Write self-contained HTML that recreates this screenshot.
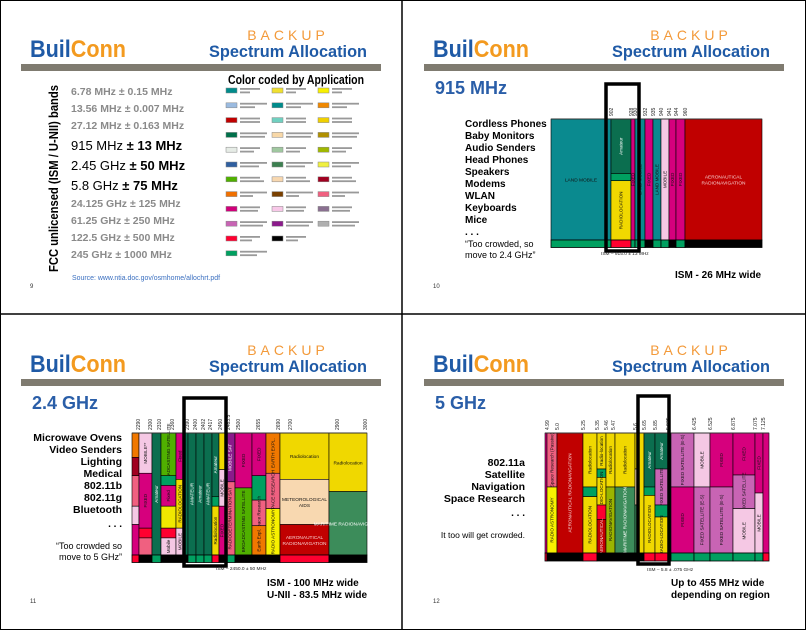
<!DOCTYPE html>
<html><head><meta charset="utf-8">
<style>
html,body{margin:0;padding:0;background:#fff;}
svg{display:block;font-family:"Liberation Sans",Arial,sans-serif;}
</style></head>
<body>
<svg id="page" width="806" height="630" viewBox="0 0 806 630" xmlns="http://www.w3.org/2000/svg">
<rect x="0.5" y="0.5" width="805" height="629" fill="#fff" stroke="#000" stroke-width="1"/>
<line x1="402" y1="0" x2="402" y2="630" stroke="#000" stroke-width="1.5"/>
<line x1="0" y1="314" x2="806" y2="314" stroke="#000" stroke-width="1.5"/>
<g id="root"></g>
</svg>
<script>
// ---------- chart data (schematic band units) ----------
var c915TickLabels = ["902","928","930","932","935","940","941","944","960"];
var c915TickUnits  = [60,80,84,94,102,110,118,125,134];
var c915Cols = [
 [0,60,[["#0a8a8f",0,1,"LAND MOBILE"]]],
 [60,80,[["#0b6e4f",0,0.45,"Amateur"],["#00a060",0.45,0.51,""],["#f0d800",0.51,1,"RADIOLOCATION"]]],
 [80,84,[["#d6007d",0,1,"FIXED"]]],
 [84,94,[["#0a8a8f",0,1,"LAND MOBILE"]]],
 [94,102,[["#d6007d",0,1,"FIXED"]]],
 [102,110,[["#0a8a8f",0,1,"LAND MOBILE"]]],
 [110,118,[["#f5c8e4",0,1,"MOBILE"]]],
 [118,125,[["#d6007d",0,1,"FIXED"]]],
 [125,134,[["#d6007d",0,1,"FIXED"]]],
 [134,211,[["#c00000",0,1,"AERONAUTICAL|RADIONAVIGATION"]]]
];
var c915Strip = [[0,60,"#00a060"],[60,80,"#ff0030"],[80,84,"#00a060"],[84,94,"#00a060"],[94,102,"#000"],[102,110,"#00a060"],[110,118,"#00a060"],[118,125,"#000"],[125,134,"#00a060"],[134,211,"#000"]];

var c24TickLabels = ["2290","2300","2310","2360","2390","2400","2402","2417","2450","2483.5","2500","2655","2690","2700","2900","3000"];
var c24TickUnits  = [6,18,27,40,55,63,71,78,88,96,106,126,146,158,205,233];
var c24Cols = [
 [0,7,[["#f07800",0,0.2,""],["#a00020",0.2,0.35,""],["#f06080",0.35,0.6,""],["#f5c8e4",0.6,0.75,""],["#d6007d",0.75,1,""]]],
 [7,20,[["#f5c8e4",0,0.33,"MOBILE**"],["#d6007d",0.33,0.78,"FIXED"],["#ff0030",0.78,0.86,""],["#f06080",0.86,1,""]]],
 [20,29,[["#0b6e4f",0,1,"Amateur"]]],
 [29,44,[["#50b000",0,0.35,"BROADCASTING SATELLITE"],["#00a060",0.35,0.43,""],["#d6007d",0.43,0.6,"Fixed"],["#f0e800",0.6,0.78,""],["#ff0030",0.78,0.86,""],["#f5c8e4",0.86,1,"Mobile"]]],
 [44,52,[["#d6007d",0,0.38,"Fixed"],["#f0d800",0.38,0.78,"RADIOLOCATION"],["#f5c8e4",0.78,1,"MOBILE"]]],
 [52,56,[["#0b6e4f",0,1,""]]],
 [56,64,[["#0b6e4f",0,1,"AMATEUR"]]],
 [64,72,[["#0b6e4f",0,1,"Amateur"]]],
 [72,80,[["#0b6e4f",0,1,"AMATEUR"]]],
 [80,87,[["#0b6e4f",0,0.52,"Amateur"],["#00a060",0.52,0.6,""],["#f0d800",0.6,1,"Radiolocation"]]],
 [87,93,[["#f0d800",0,0.3,""],["#f5c8e4",0.3,0.6,"MOBILE"],["#d6007d",0.6,1,"FIXED"]]],
 [93,103,[["#8b1a8b",0,0.4,"MOBILE SAT"],["#f06080",0.4,1,"RADIODETERMINATION SAT"]]],
 [103,120,[["#d6007d",0,0.45,"FIXED"],["#50b000",0.45,1,"BROADCASTING SATELLITE"]]],
 [120,134,[["#d6007d",0,0.35,"FIXED"],["#00a060",0.35,0.55,""],["#f06080",0.55,0.76,"Space Research"],["#f07800",0.76,1,"Earth Expl."]]],
 [134,148,[["#f07800",0,0.33,"EARTH EXPL."],["#f06080",0.33,0.62,"SPACE RESEARCH"],["#f8f000",0.62,1,"RADIO ASTRONOMY"]]],
 [148,197,[["#f0d800",0,0.38,"Radiolocation"],["#f8d8b0",0.38,0.75,"METEOROLOGICAL|AIDS"],["#c00000",0.75,1,"AERONAUTICAL|RADIONAVIGATION"]]],
 [197,235,[["#f0d800",0,0.48,"Radiolocation"],["#3c8c5a",0.48,1,"MARITIME RADIONAVIGATION"]]]
];
var c24Strip = [[0,7,"#ff0030"],[7,20,"#000"],[20,29,"#00a060"],[29,56,"#000"],[56,64,"#00a060"],[64,72,"#00a060"],[72,80,"#00a060"],[80,87,"#ff0030"],[87,93,"#000"],[93,103,"#00a060"],[103,148,"#000"],[148,197,"#ff0030"],[197,235,"#000"]];

var c5TickLabels = ["4.99","5.0","5.25","5.35","5.46","5.47","5.6","5.65","5.85","5.925","6.425","6.525","6.875","7.075","7.125"];
var c5TickUnits  = [2,12,38,52,61,68,90,99,110,123,149,165,188,210,218];
var c5Cols = [
 [0,2,[["#d6007d",0,1,""]]],
 [2,12,[["#f06080",0,0.45,"Space Research (Passive)"],["#f8f000",0.45,1,"RADIO ASTRONOMY"]]],
 [12,38,[["#c00000",0,1,"AERONAUTICAL RADIONAVIGATION"]]],
 [38,52,[["#f0d800",0,0.45,"Radiolocation"],["#00a060",0.45,0.53,""],["#f0d800",0.53,1,"RADIOLOCATION"]]],
 [52,61,[["#f0d800",0,0.3,"Radio-location"],["#00a060",0.3,0.37,""],["#f0d800",0.37,0.6,"RADIO-LOCATION"],["#ff0030",0.6,0.72,""],["#c00000",0.72,1,"AERONAUTICAL"]]],
 [61,70,[["#f0d800",0,0.45,"Radiolocation"],["#9ab400",0.45,1,"RADIONAVIGATION"]]],
 [70,90,[["#f0d800",0,0.45,"Radiolocation"],["#3c8c5a",0.45,1,"MARITIME RADIONAVIGATION"]]],
 [90,94,[["#f0d800",0,0.3,""],["#f8d8b0",0.3,0.6,""],["#3c8c5a",0.6,1,""]]],
 [94,99,[["#f0d800",0,1,""]]],
 [99,110,[["#0b6e4f",0,0.45,"Amateur"],["#00a060",0.45,0.52,""],["#f0d800",0.52,1,"RADIOLOCATION"]]],
 [110,123,[["#0b6e4f",0,0.3,"Amateur"],["#c864b4",0.3,0.6,"FIXED SATELLITE"],["#00a060",0.6,0.7,""],["#f0d800",0.7,1,"RADIO-LOCATION"]]],
 [123,126,[["#0b6e4f",0,1,""]]],
 [126,149,[["#c864b4",0,0.45,"FIXED SATELLITE (E-S)"],["#d6007d",0.45,1,"FIXED"]]],
 [149,165,[["#f5c8e4",0,0.45,"MOBILE"],["#c864b4",0.45,1,"FIXED SATELLITE (E-S)"]]],
 [165,188,[["#d6007d",0,0.45,"FIXED"],["#c864b4",0.45,1,"FIXED SATELLITE (E-S)"]]],
 [188,210,[["#d6007d",0,0.35,"FIXED"],["#c864b4",0.35,0.63,"FIXED SATELLITE"],["#f5c8e4",0.63,1,"MOBILE"]]],
 [210,218,[["#d6007d",0,0.5,"FIXED"],["#f5c8e4",0.5,1,"MOBILE"]]],
 [218,224,[["#d6007d",0,1,""]]]
];
var c5Strip = [[0,2,"#ff0030"],[2,38,"#000"],[38,52,"#ff0030"],[52,99,"#000"],[99,110,"#ff0030"],[110,123,"#ff0030"],[123,126,"#000"],[126,149,"#00a060"],[149,165,"#00a060"],[165,188,"#00a060"],[188,210,"#00a060"],[210,218,"#00a060"],[218,224,"#ff0030"]];

// legend swatch colors
var legendCol1 = ["#008b8b","#9bbbe0","#c00000","#00704a","#e6ece6","#2f5fa0","#50b000","#f07000","#d0007a","#c864b4","#ff0030","#00a060"];
var legendCol2 = ["#f0e030","#008b8b","#70d0c0","#f8d8a8","#a0c8a0","#3c8050","#f8d8b0","#7a4000","#f8c8e8","#8b1a8b","#000000"];
var legendCol3 = ["#f8f000","#f08800","#f0d000","#b09000","#a0b800","#f0f040","#a00020","#f06080","#8a7090","#b0b0b0"];

var NS="http://www.w3.org/2000/svg";
var root=document.getElementById('root');
function mk(tag,attrs,parent,txt){var e=document.createElementNS(NS,tag);for(var k in attrs)e.setAttribute(k,attrs[k]);if(txt!==undefined)e.textContent=txt;(parent||root).appendChild(e);return e;}

function header(px,py,n){
  var g=mk('g',{});
  
  
  var t=mk('text',{x:px+30,y:py+57,'font-size':24,'font-weight':'bold',textLength:96,lengthAdjust:'spacingAndGlyphs'},g);
  
  
  mk('tspan',{fill:'#1f5aa6'},t,'Buil');mk('tspan',{fill:'#f39a1f'},t,'Conn');
  var b=mk('text',{x:px+288,y:py+40,'font-size':14,fill:'#f39a3a','text-anchor':'middle','letter-spacing':4},g,'BACKUP');
  
  
  var s=mk('text',{x:px+209,y:py+57,'font-size':17,'font-weight':'bold',fill:'#1f5aa6',textLength:158,lengthAdjust:'spacingAndGlyphs'},g,'Spectrum Allocation');
  
  
  var r=mk('rect',{x:px+21,y:py+64,width:360,height:7,fill:'#7f7b70'},g);
  
  
  var p=mk('text',{x:px+30,y:py+288,'font-size':6,fill:'#333'},g,n);
  
  
}
header(0,0,'9');header(403,0,'10');header(0,315,'11');header(403,315,'12');

function txt(x,y,s,size,opts,name){
  var a={x:x,y:y,'font-size':size};for(var k in opts)a[k]=opts[k];
  var e=mk('text',a,null,s);
  
  
  return e;
}

// ---------- panel 1 ----------
txt(0,0,'FCC unlicensed (ISM / U-NII) bands',12.5,{'font-weight':'bold',fill:'#000',transform:'translate(58,272) rotate(-90)',textLength:187,lengthAdjust:'spacingAndGlyphs'},'rotated-axis-label');
var greyBands=[["6.78 MHz ± 0.15 MHz",95],["13.56 MHz ± 0.007 MHz",112],["27.12 MHz ± 0.163 MHz",129],["24.125 GHz ± 125 MHz",207],["61.25 GHz ± 250 MHz",224],["122.5 GHz ± 500 MHz",241],["245 GHz ± 1000 MHz",258]];
greyBands.forEach(function(b){txt(71,b[1],b[0],10.5,{'font-weight':'bold',fill:'#8a8a8a'},'band-entry');});
[["915 MHz ","± 13 MHz",150],["2.45 GHz ","± 50 MHz",170],["5.8 GHz ","± 75 MHz",190]].forEach(function(b){
  var e=txt(71,b[2],'',13,{fill:'#000'},'band-entry-highlight');
  mk('tspan',{},e,b[0]);mk('tspan',{'font-weight':'bold'},e,b[1]);
});
txt(228,84,'Color coded by Application',12.5,{'font-weight':'bold',fill:'#000',textLength:136,lengthAdjust:'spacingAndGlyphs'},'legend-title');
txt(72,280,'Source: www.ntia.doc.gov/osmhome/allochrt.pdf',7,{fill:'#3a6fc0',textLength:148,lengthAdjust:'spacingAndGlyphs'},'source-link');
function legendCol(x,cols){
  cols.forEach(function(c,i){
    var y=88+i*14.8;
    var r=mk('rect',{x:x,y:y,width:11,height:5,fill:c,stroke:'#888','stroke-width':0.5});
    
    
    var l=mk('rect',{x:x+14,y:y,width:20+(i*7)%14,height:1.8,fill:'#999'});
    
    
    var l2=mk('rect',{x:x+14,y:y+3.5,width:10+(i*5)%16,height:1.8,fill:'#999'});
    
    
  });
}
legendCol(226,legendCol1);legendCol(272,legendCol2);legendCol(318,legendCol3);

// ---------- chart renderer ----------
function drawChart(name,ox,oy,w,h,stripH,domain,cols,strip,tickLabels,tickUnits,box,ismText){
  var g=mk('g',{});
  
  
  var xs=function(u){return ox+u*w/domain;};
  var ys=function(f){return oy+f*h;};
  cols.forEach(function(c){
    c[2].forEach(function(s){
      var x0=xs(c[0]),x1=xs(c[1]),y0=ys(s[1]),y1=ys(s[2]);
      var r=mk('rect',{x:x0,y:y0,width:x1-x0,height:y1-y0,fill:s[0],stroke:'#000','stroke-width':0.6},g);
      
      
      if(s[3]){
        var cx=(x0+x1)/2,cy=(y0+y1)/2,tc=(s[0]=='#8b1a8b'||s[0]=='#0b6e4f'||s[0]=='#3c8c5a')?'#fff':'#111';
        if(s[0]=='#c00000')tc='#f6d0d0';
        var t;
        if(x1-x0>30){
          var parts=s[3].split('|');
          t=mk('text',{x:cx,y:cy+2-(parts.length-1)*3,'font-size':4.8,fill:tc,'text-anchor':'middle'},g);
          parts.forEach(function(p,j){mk('tspan',{x:cx,dy:j?6:0},t,p);});
        } else {
          t=mk('text',{x:0,y:0,'font-size':4.6,fill:tc,'text-anchor':'middle',transform:'translate('+(cx+1.6)+','+cy+') rotate(-90)'},g,s[3].replace('|',' '));
        }
        
        
      }
    });
  });
  strip.forEach(function(s){
    var r=mk('rect',{x:xs(s[0]),y:oy+h,width:xs(s[1])-xs(s[0]),height:stripH,fill:s[2],stroke:'#000','stroke-width':0.8},g);
    
    
  });
  var tl=mk('line',{x1:ox,y1:oy,x2:ox+w,y2:oy,stroke:'#333','stroke-width':1},g);
  
  
  tickLabels.forEach(function(lbl,i){
    var t=mk('text',{x:0,y:0,'font-size':5,fill:'#222',transform:'translate('+(xs(tickUnits[i])+1.8)+','+(oy-3)+') rotate(-90)'},g,lbl);
    
    
  });
  var bx=mk('rect',{x:box[0],y:box[1],width:box[2],height:box[3],fill:'none',stroke:'#000','stroke-width':3.5},g);
  
  
  var it=mk('text',{x:ismText[0],y:ismText[1],'font-size':4.8,fill:'#222'},g,ismText[2]);
  
  
}

// ---------- panel 2 ----------
txt(435,94,'915 MHz',18,{'font-weight':'bold',fill:'#2a5ea8'},'slide-title');
["Cordless Phones","Baby Monitors","Audio Senders","Head Phones","Speakers","Modems","WLAN","Keyboards","Mice"].forEach(function(s,i){
  txt(465,127+i*12,s,10,{'font-weight':'bold',fill:'#000'},'application-item');
});
txt(465,235,'. . .',10,{'font-weight':'bold',fill:'#000'},'ellipsis');
txt(465,247,'“Too crowded, so',9,{fill:'#000'},'quote-line');
txt(465,258,'move to 2.4 GHz”',9,{fill:'#000'},'quote-line');
drawChart('chart-915mhz',551,119,211,121,7.5,211,c915Cols,c915Strip,c915TickLabels,c915TickUnits,[606,84,33,167],[601,255,'ISM – 915.0 ± 13 MHz']);
txt(675,278,'ISM - 26 MHz wide',10,{'font-weight':'bold',fill:'#000'},'bandwidth-note');

// ---------- panel 3 ----------
txt(32,409,'2.4 GHz',18,{'font-weight':'bold',fill:'#2a5ea8'},'slide-title');
["Microwave Ovens","Video Senders","Lighting","Medical","802.11b","802.11g","Bluetooth"].forEach(function(s,i){
  txt(122,441+i*12,s,10.5,{'font-weight':'bold',fill:'#000','text-anchor':'end'},'application-item');
});
txt(122,527,'. . .',10,{'font-weight':'bold',fill:'#000','text-anchor':'end'},'ellipsis');
txt(122,549,'“Too crowded so',9,{fill:'#000','text-anchor':'end'},'quote-line');
txt(122,560,'move to 5 GHz”',9,{fill:'#000','text-anchor':'end'},'quote-line');
drawChart('chart-2-4ghz',132,433,235,122,7.5,235,c24Cols,c24Strip,c24TickLabels,c24TickUnits,[184,398,42,168],[216,570,'ISM – 2450.0 ± 50 MHz']);
txt(267,586,'ISM - 100 MHz wide',10,{'font-weight':'bold',fill:'#000'},'bandwidth-note');
txt(267,598,'U-NII - 83.5 MHz wide',10,{'font-weight':'bold',fill:'#000'},'bandwidth-note');

// ---------- panel 4 ----------
txt(435,409,'5 GHz',18,{'font-weight':'bold',fill:'#2a5ea8'},'slide-title');
["802.11a","Satellite","Navigation","Space Research"].forEach(function(s,i){
  txt(525,466+i*12,s,10.5,{'font-weight':'bold',fill:'#000','text-anchor':'end'},'application-item');
});
txt(525,516,'. . .',10,{'font-weight':'bold',fill:'#000','text-anchor':'end'},'ellipsis');
txt(525,538,'It too will get crowded.',8.5,{fill:'#000','text-anchor':'end'},'closing-note');
drawChart('chart-5ghz',545,433,224,120,8,224,c5Cols,c5Strip,c5TickLabels,c5TickUnits,[638,396,31,168],[647,571,'ISM – 5.8 ± .075 GHz']);
txt(671,586,'Up to 455 MHz wide',10,{'font-weight':'bold',fill:'#000'},'bandwidth-note');
txt(671,598,'depending on region',10,{'font-weight':'bold',fill:'#000'},'bandwidth-note');
</script>
</body></html>
